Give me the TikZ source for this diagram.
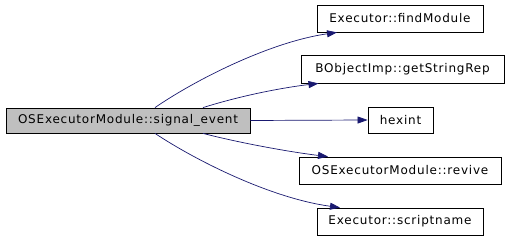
\documentclass[tikz,border=0pt]{standalone}
\usepackage{fontspec}
\setmainfont{DejaVu Sans}[LetterSpace=6.5]
\usetikzlibrary{arrows.meta}
\definecolor{edgeblue}{HTML}{191970}
\definecolor{mainfill}{HTML}{BFBFBF}
\begin{document}
\begin{tikzpicture}[x=1pt,y=-1pt,
  box/.style={draw=black,line width=0.8pt,inner sep=0pt,font=\fontsize{12}{14}\selectfont,anchor=center},
  edge/.style={draw=edgeblue,line width=0.7pt,-{Triangle[length=10pt,width=7pt]}}]
\useasboundingbox (0,0) rectangle (507,240);
\node[box,fill=mainfill,minimum width=244pt,minimum height=25pt] (main) at (128,120.5) {OSExecutorModule::signal\_event};
\node[box,minimum width=166pt,minimum height=27pt] (fm) at (400,18.5) {Executor::findModule};
\node[box,minimum width=203pt,minimum height=28pt] (gs) at (402.5,69) {BObjectImp::getStringRep};
\node[box,minimum width=65pt,minimum height=26pt] (hx) at (400.5,120) {hexint};
\node[box,minimum width=202pt,minimum height=27pt] (rv) at (400,170.5) {OSExecutorModule::revive};
\node[box,minimum width=166pt,minimum height=27pt] (sn) at (400,221.5) {Executor::scriptname};
\draw[edge] ([xshift=27pt]main.north) .. controls (195,80) and (270,42) .. ([xshift=-63pt]fm.south);
\draw[edge] ([xshift=75pt]main.north) .. controls (240,96) and (280,88) .. ([xshift=-84pt]gs.south);
\draw[edge] (main.east) -- (hx.west);
\draw[edge] ([xshift=75pt]main.south) .. controls (240,143) and (290,152) .. ([xshift=-72pt]rv.north);
\draw[edge] ([xshift=27pt]main.south) .. controls (195,160) and (270,198) .. ([xshift=-60pt]sn.north);
\end{tikzpicture}
\end{document}
